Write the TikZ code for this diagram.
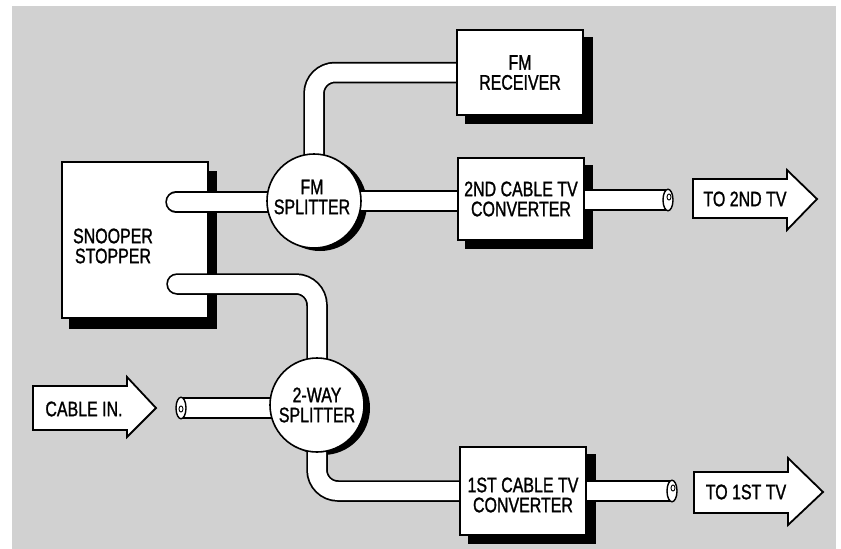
\documentclass[tikz,border=0pt]{standalone}
\usepackage{fontspec}
\setmainfont{Liberation Sans}[FakeStretch=0.76, FakeBold=1.2]
\pgfdeclarelayer{under}
\pgfdeclarelayer{tubes}
\pgfsetlayers{under,tubes,main}
\newcommand\lblfont{\fontsize{21}{20}\selectfont}
\newcommand\cable[2][butt]{%
  \draw[black, line width=21.5pt, line cap=#1, rounded corners=21pt] #2;
  \draw[white, line width=18pt, line cap=#1, rounded corners=21pt] #2;}
\tikzset{
  lbl/.style={align=center, font=\lblfont, inner sep=0pt},
  unitbox/.style={lbl, draw, line width=1.6pt, fill=white, minimum width=126pt},
  splitter/.style={lbl, circle, draw, line width=1.6pt, fill=white, minimum size=94pt},
  arrowline/.style={draw, line width=1.8pt, fill=white, line join=miter},
  cutend/.style={draw, line width=1.4pt, fill=white},
}
\begin{document}
\begin{tikzpicture}[x=1pt, y=-1pt]
\useasboundingbox (0,0) rectangle (841,549);
% ---------- main nodes ----------
\node[unitbox, minimum height=85pt] (fmr) at (520,72.5) {FM\\RECEIVER};
\node[unitbox, minimum height=82pt] (cv2) at (521,199) {2ND CABLE TV\\CONVERTER};
\node[unitbox, minimum height=88pt] (cv1) at (523,491) {};
\node[lbl] (cv1t) at (523,495) {1ST CABLE TV\\CONVERTER};
\node[splitter] (fms) at (314,201) {};
\node[lbl] (fmst) at (312,197) {FM\\SPLITTER};
\node[splitter] (tw) at (317,405) {2-WAY\\SPLITTER};
\node[lbl] (sst) at (113,246) {SNOOPER\\STOPPER};
% arrows
\draw[arrowline] (33,386) -- (127,386) -- (127,377) -- (156,408) -- (127,437) -- (127,430) -- (33,430) -- cycle;
\node[lbl] (cin) at (84,409) {CABLE IN.};
\draw[arrowline] (693,179) -- (787,179) -- (787,170) -- (817,199) -- (787,230) -- (787,218) -- (693,218) -- cycle;
\node[lbl] (to2) at (745,199) {TO 2ND TV};
\draw[arrowline] (694,472) -- (788,472) -- (788,458) -- (823,492) -- (788,525) -- (788,513) -- (694,513) -- cycle;
\node[lbl] (to1) at (746,492) {TO 1ST TV};
% ---------- background, shadows, snooper box ----------
\begin{pgfonlayer}{under}
\fill[black!18] (12,6) rectangle (836,549);
\fill[black] ([shift={(9,8)}]fmr.north west) rectangle ([shift={(9,8)}]fmr.south east);
\fill[black] ([shift={(8,8)}]cv2.north west) rectangle ([shift={(8,8)}]cv2.south east);
\fill[black] ([shift={(9,8)}]cv1.north west) rectangle ([shift={(9,8)}]cv1.south east);
\fill[black] ([shift={(6,3)}]fms.center) circle (47pt);
\fill[black] ([shift={(6,3)}]tw.center) circle (47pt);
\node[draw, line width=1.6pt, fill=white, minimum width=146pt, minimum height=156pt, inner sep=0pt] (ss) at (135,240) {};
\fill[black] ([shift={(8,10)}]ss.north west) rectangle ([shift={(8,10)}]ss.south east);
\node[draw, line width=1.6pt, fill=white, minimum width=146pt, minimum height=156pt, inner sep=0pt] at (ss.center) {};
\end{pgfonlayer}
% ---------- cables ----------
\begin{pgfonlayer}{tubes}
\coordinate (r1) at (176,202);
\coordinate (r2) at (177,284);
\coordinate (ci) at (181,408);
\coordinate (e2) at (668,200);
\coordinate (e1) at (672,491);
\cable[round]{(r1) -- (r1 -| fms.center)}
\cable[round]{(r2) -| (tw.center)}
\cable{(fms.center) |- (fmr.center)}
\cable{(fms.center) -- (fms.center -| cv2.center)}
\cable{(ci) -- (ci -| tw.center)}
\cable{(tw.center) |- (cv1.center)}
\cable{(cv2.center |- e2) -- (e2)}
\cable{(cv1.center |- e1) -- (e1)}
\draw[cutend] (ci) ellipse (5pt and 10.75pt);
\draw[line width=0.9pt] ([shift={(0,1)}]ci) ellipse (2pt and 3pt);
\draw[cutend] (e2) ellipse (5pt and 10.75pt);
\draw[line width=0.9pt] ([shift={(1,-3)}]e2) ellipse (2pt and 3pt);
\draw[cutend] (e1) ellipse (5pt and 10.75pt);
\draw[line width=0.9pt] ([shift={(1,-3)}]e1) ellipse (2pt and 3pt);
\end{pgfonlayer}
\end{tikzpicture}
\end{document}
